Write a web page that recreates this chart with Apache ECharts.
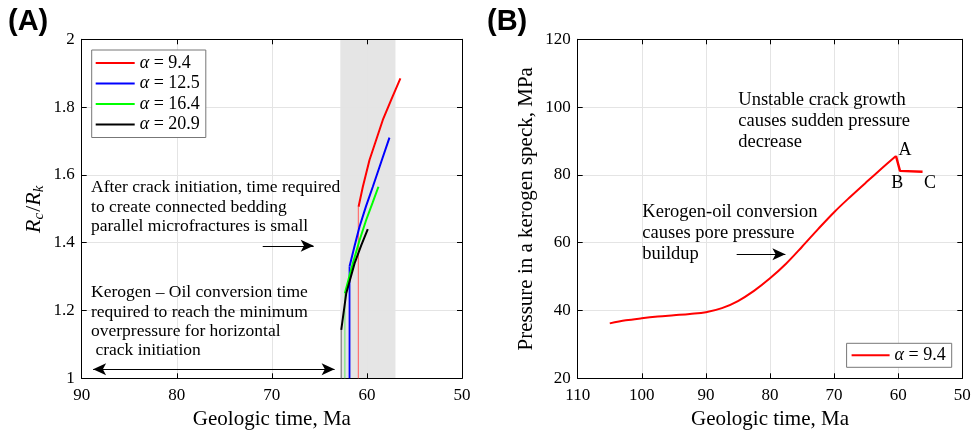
<!DOCTYPE html>
<html>
<head>
<meta charset="utf-8">
<script src="https://cdn.jsdelivr.net/npm/echarts@6/dist/echarts.min.js"></script>
<style>
  html, body { margin: 0; padding: 0; background: #fff; }
  #chart { width: 972px; height: 431px; }
</style>
</head>
<body>
<div id="chart"></div>
<script>
// ---- Panel A: crack radius ratio versus geologic time ----
const alphaNames = ['α = 9.4', 'α = 12.5', 'α = 16.4', 'α = 20.9'];
const alphaColors = ['#ff0000', '#0000ff', '#00ff00', '#000000'];
const stemColors = ['#ff7070', '#0000ff', '#7be87b', '#808080'];

const red_t = [60.88, 60.43, 59.73, 59.03, 58.33, 57.45, 56.48];
const red_r = [1.506, 1.565, 1.644, 1.703, 1.762, 1.821, 1.885];
const blue_t = [61.83, 61.3, 60.78, 60.1, 59.38, 58.5, 57.63];
const blue_r = [1.33, 1.39, 1.447, 1.507, 1.565, 1.638, 1.71];
const green_t = [62.32, 61.48, 60.8, 60.08, 59.4, 58.79];
const green_r = [1.251, 1.339, 1.405, 1.467, 1.518, 1.565];
const black_t = [62.7, 62.18, 61.3, 60.6, 59.91];
const black_r = [1.143, 1.25, 1.339, 1.392, 1.44];

// crack-initiation times and the ratio each stem rises to
const stem_t = [60.9, 61.83, 62.32, 62.7];
const stem_top = [1.506, 1.33, 1.251, 1.143];

// shaded crack-growth window
const band_t = [62.8, 57.0];

// ---- Panel B: kerogen speck pressure ----
const timeB = [105, 102.5, 100, 97.5, 95, 92.5, 90, 87.5, 85, 82.5, 80, 77.5, 75, 72.5, 70, 67.5, 65, 62.5, 60.35];
const presB = [36.2, 37.1, 37.7, 38.2, 38.6, 39.0, 39.5, 40.7, 42.8, 45.8, 49.5, 53.8, 58.8, 64.0, 69.0, 73.5, 77.8, 82.0, 85.6];
const dropT = [60.35, 59.72, 56.2];
const dropP = [85.6, 81.2, 80.95];

const xTicksA = [50, 90, 10];
const yTicksA = [1, 2, 0.2];
const xTicksB = [50, 110, 10];
const yTicksB = [20, 120, 20];

const SERIF = '"Liberation Serif", "DejaVu Serif", serif';
const INK = '#000';

const zip = (xs, ys) => xs.map((x, i) => [x, ys[i]]);

function xAxisPair(grid, ticks, title) {
  const common = {
    type: 'value', gridIndex: grid, min: ticks[0], max: ticks[1], interval: ticks[2], inverse: true,
    axisLine: { show: true, onZero: false, lineStyle: { color: INK, width: 1 } },
    axisTick: { show: true, inside: true, length: 5, lineStyle: { color: INK } }
  };
  return [
    Object.assign({}, common, {
      position: 'bottom',
      axisLabel: { color: INK, fontFamily: SERIF, fontSize: 17, margin: 9 },
      splitLine: { show: true, lineStyle: { color: '#e4e4e4', width: 1 } },
      name: title, nameLocation: 'middle', nameGap: 29,
      nameTextStyle: { color: INK, fontFamily: SERIF, fontSize: 21 }
    }),
    Object.assign({}, common, {
      position: 'top', axisLabel: { show: false }, splitLine: { show: false }
    })
  ];
}

function yAxisPair(grid, ticks, title, gap, rich) {
  const common = {
    type: 'value', gridIndex: grid, min: ticks[0], max: ticks[1], interval: ticks[2],
    axisLine: { show: true, onZero: false, lineStyle: { color: INK, width: 1 } },
    axisTick: { show: true, inside: true, length: 5, lineStyle: { color: INK } }
  };
  return [
    Object.assign({}, common, {
      position: 'left',
      axisLabel: { color: INK, fontFamily: SERIF, fontSize: 17, margin: 7 },
      splitLine: { show: true, lineStyle: { color: '#e4e4e4', width: 1 } },
      name: title, nameLocation: 'middle', nameGap: gap, nameRotate: 90,
      nameTextStyle: Object.assign({ color: INK, fontFamily: SERIF, fontSize: 21 }, rich ? { rich: rich } : {})
    }),
    Object.assign({}, common, {
      position: 'right', axisLabel: { show: false }, splitLine: { show: false }
    })
  ];
}

const curvesA = [zip(red_t, red_r), zip(blue_t, blue_r), zip(green_t, green_r), zip(black_t, black_r)];

const series = [];
// shaded window, drawn beneath the grid lines
series.push({
  type: 'line', xAxisIndex: 0, yAxisIndex: 0, name: 'band', data: [], silent: true,
  z: -1,
  markArea: {
    silent: true, z: -1,
    itemStyle: { color: '#e5e5e5', opacity: 1 },
    data: [[{ xAxis: band_t[0] }, { xAxis: band_t[1] }]]
  }
});
// stems: horizontal-crack initiation times
stem_t.forEach((t, i) => {
  series.push({
    type: 'line', xAxisIndex: 0, yAxisIndex: 0, name: 'stem' + i,
    data: [[t, 1], [t, stem_top[i]]],
    symbol: 'none', silent: true,
    lineStyle: { color: stemColors[i], width: i === 1 ? 1.8 : 1.2 },
    z: 3
  });
});
// crack growth curves
curvesA.forEach((d, i) => {
  series.push({
    type: 'line', xAxisIndex: 0, yAxisIndex: 0, name: alphaNames[i],
    data: d, symbol: 'none', silent: true,
    color: alphaColors[i],
    itemStyle: { color: alphaColors[i] },
    lineStyle: { color: alphaColors[i], width: 2 },
    z: 4
  });
});
// arrows for panel A
series.push({
  type: 'line', xAxisIndex: 0, yAxisIndex: 0, name: 'notesA', data: [], silent: true,
  markLine: {
    silent: true, animation: false,
    symbol: ['none', 'arrow'], symbolSize: [9, 13],
    label: { show: false },
    lineStyle: { color: INK, type: 'solid', width: 1.2 },
    data: [
      [{ coord: [70.96, 1.391] }, { coord: [65.6, 1.391] }],
      [{ coord: [88.8, 1.027], symbol: 'arrow' }, { coord: [63.4, 1.027] }]
    ]
  }
});

// panel B pressure
series.push({
  type: 'line', xAxisIndex: 2, yAxisIndex: 2, name: alphaNames[0],
  data: zip(timeB, presB), symbol: 'none', silent: true, smooth: 0.35,
  color: '#ff0000', itemStyle: { color: '#ff0000' },
  lineStyle: { color: '#ff0000', width: 2 },
  markLine: {
    silent: true, animation: false,
    symbol: ['none', 'arrow'], symbolSize: [9, 13],
    label: { show: false },
    lineStyle: { color: INK, type: 'solid', width: 1.2 },
    data: [[{ coord: [85.2, 56.6] }, { coord: [77.6, 56.6] }]]
  }
});
series.push({
  type: 'line', xAxisIndex: 2, yAxisIndex: 2, name: 'drop',
  data: zip(dropT, dropP), symbol: 'none', silent: true,
  lineStyle: { color: '#ff0000', width: 2.4 }
});

const legendText = {
  color: INK, fontFamily: SERIF, fontSize: 18, lineHeight: 20,
  rich: { i: { fontStyle: 'italic', fontFamily: SERIF, fontSize: 18, lineHeight: 20, color: INK } }
};
const legendFmt = name => name.replace('α', '{i|α}');

const option = {
  animation: false,
  backgroundColor: '#fff',
  grid: [
    { left: 81.7, top: 39.3, width: 380.3, height: 339, outerBoundsMode: 'none', containLabel: false },
    { left: 577.7, top: 39.3, width: 384.6, height: 339, outerBoundsMode: 'none', containLabel: false }
  ],
  xAxis: [].concat(xAxisPair(0, xTicksA, 'Geologic time, Ma'), xAxisPair(1, xTicksB, 'Geologic time, Ma')),
  yAxis: [].concat(
    yAxisPair(0, yTicksA, '{i|R}{s|c}{n|/}{i|R}{s|k}', 35, {
      i: { fontStyle: 'italic', fontFamily: SERIF, fontSize: 22, color: INK },
      n: { fontFamily: SERIF, fontSize: 22, color: INK },
      s: { fontStyle: 'italic', fontFamily: SERIF, fontSize: 15, color: INK, padding: [9, 1, 0, 0] }
    }),
    yAxisPair(1, yTicksB, 'Pressure in a kerogen speck, MPa', 41)
  ),
  legend: [
    {
      data: alphaNames, orient: 'vertical', left: 91.7, top: 50,
      icon: 'rect', itemWidth: 39, itemHeight: 2, itemGap: 0.5,
      padding: [3, 6, 3, 4],
      backgroundColor: '#fff', borderColor: '#777', borderWidth: 1,
      textStyle: legendText, formatter: legendFmt, selectedMode: false
    },
    {
      data: [alphaNames[0]], orient: 'vertical', right: 972 - 951.7, top: 343.3,
      icon: 'rect', itemWidth: 38, itemHeight: 2,
      padding: [2, 6, 2, 5],
      backgroundColor: '#fff', borderColor: '#777', borderWidth: 1,
      textStyle: legendText, formatter: legendFmt, selectedMode: false
    }
  ],
  series: series
};

const chart = echarts.init(document.getElementById('chart'), null, { renderer: 'canvas' });
chart.setOption(option);

// text annotations anchored in data coordinates
const notes = [
  { grid: 0, at: [89.02, 1.562], size: 17.5, lh: 19.3,
    lines: ['After crack initiation, time required', 'to create connected bedding', 'parallel microfractures is small'] },
  { grid: 0, at: [89.02, 1.252], size: 17.5, lh: 19.3,
    lines: ['Kerogen \u2013 Oil conversion time', 'required to reach the minimum', 'overpressure for horizontal', ' crack initiation'] },
  { grid: 1, at: [84.95, 102.1], size: 18.5, lh: 21.3,
    lines: ['Unstable crack growth', 'causes sudden pressure', 'decrease'] },
  { grid: 1, at: [99.92, 69.0], size: 18.5, lh: 21,
    lines: ['Kerogen-oil conversion', 'causes pore pressure', 'buildup'] }
];
const pointTags = [
  { at: [58.94, 87.4], text: 'A' },
  { at: [60.14, 77.5], text: 'B' },
  { at: [55.04, 77.5], text: 'C' }
];

const graphics = [];
notes.forEach(n => {
  const p = chart.convertToPixel({ gridIndex: n.grid }, n.at);
  n.lines.forEach((line, k) => {
    graphics.push({
      type: 'text', x: p[0], y: p[1] + k * n.lh, silent: true, z: 20,
      style: { text: line, fill: INK, font: n.size + 'px ' + SERIF, textAlign: 'left', textVerticalAlign: 'middle' }
    });
  });
});
pointTags.forEach(t => {
  const p = chart.convertToPixel({ gridIndex: 1 }, t.at);
  graphics.push({
    type: 'text', x: p[0], y: p[1], silent: true, z: 20,
    style: { text: t.text, fill: INK, font: '18px ' + SERIF, textAlign: 'center', textVerticalAlign: 'middle' }
  });
});
graphics.push({
  type: 'text', x: 8, y: 22, silent: true,
  style: { text: '(A)', fill: INK, font: 'bold 29px "Liberation Sans", Arial, sans-serif', textAlign: 'left', textVerticalAlign: 'middle' }
});
graphics.push({
  type: 'text', x: 487, y: 22, silent: true,
  style: { text: '(B)', fill: INK, font: 'bold 29px "Liberation Sans", Arial, sans-serif', textAlign: 'left', textVerticalAlign: 'middle' }
});
chart.setOption({ graphic: graphics });
</script>
</body>
</html>
